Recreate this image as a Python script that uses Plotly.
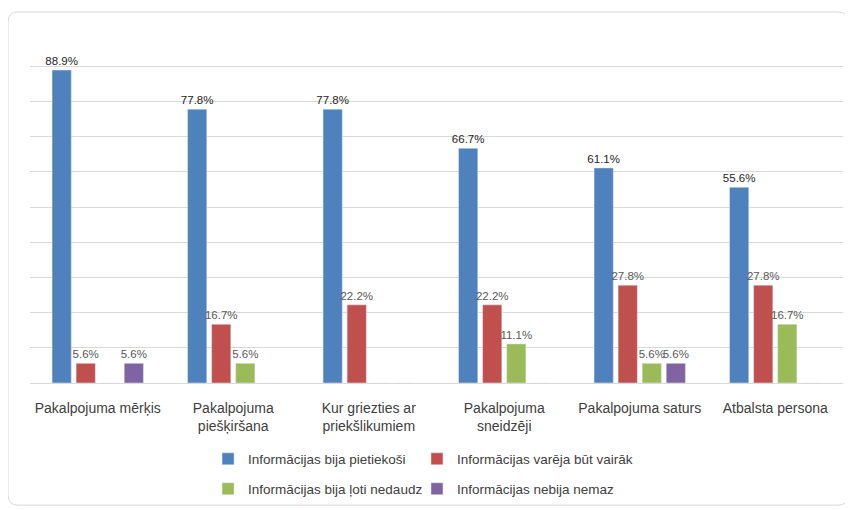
import plotly.graph_objects as go

categories = [
    "Pakalpojuma mērķis",
    "Pakalpojuma<br>piešķiršana",
    "Kur griezties ar<br>priekšlikumiem",
    "Pakalpojuma<br>sneidzēji",
    "Pakalpojuma saturs",
    "Atbalsta persona",
]

series_names = [
    "Informācijas bija pietiekoši",
    "Informācijas varēja būt vairāk",
    "Informācijas bija ļoti nedaudz",
    "Informācijas nebija nemaz",
]

pietiekosi = [88.9, 77.8, 77.8, 66.7, 61.1, 55.6]
vairak = [5.6, 16.7, 22.2, 22.2, 27.8, 27.8]
nedaudz = [0, 5.6, 0, 11.1, 5.6, 16.7]
nemaz = [5.6, 0, 0, 0, 5.6, 0]

colors = ["#4f81bd", "#c0504d", "#9bbb59", "#8064a2"]
label_colors = ["#262626", "#595959", "#595959", "#595959"]
legends = ["legend", "legend2", "legend3", "legend4"]
FONT = "Liberation Sans, Arial, sans-serif"

fig = go.Figure()
for name, vals, col, lcol, lg in zip(series_names, [pietiekosi, vairak, nedaudz, nemaz],
                                     colors, label_colors, legends):
    fig.add_trace(go.Bar(
        x=categories,
        y=vals,
        name=name,
        marker=dict(color=col),
        text=[f"{v}%" if v else "" for v in vals],
        textposition="outside",
        constraintext="none",
        textfont=dict(size=11.5, color=lcol, family=FONT),
        cliponaxis=False,
        legend=lg,
        showlegend=True,
    ))

legend_style = dict(
    orientation="h",
    xanchor="left",
    yanchor="middle",
    font=dict(size=13.5, color="#404040", family=FONT),
    bgcolor="rgba(0,0,0,0)",
    itemwidth=30,
)

# rounded chart border (paper coords)
x0, x1, y0, y1 = -0.027, 1.006, -0.347, 1.054
rx, ry = 0.0123, 0.0284
border = (f"M {x0+rx},{y0} L {x1-rx},{y0} Q {x1},{y0} {x1},{y0+ry} "
          f"L {x1},{y1-ry} Q {x1},{y1} {x1-rx},{y1} "
          f"L {x0+rx},{y1} Q {x0},{y1} {x0},{y1-ry} "
          f"L {x0},{y0+ry} Q {x0},{y0} {x0+rx},{y0} Z")

fig.update_layout(
    width=845,
    height=502,
    showlegend=True,
    paper_bgcolor="white",
    plot_bgcolor="white",
    margin=dict(l=22, r=10, t=23, b=127, autoexpand=False),
    barmode="group",
    bargap=0.29,
    bargroupgap=0.2,
    font=dict(family=FONT, size=14, color="#404040"),
    legend=dict(**legend_style, x=0.219, y=-0.216),
    legend2=dict(**legend_style, x=0.476, y=-0.216),
    legend3=dict(**legend_style, x=0.219, y=-0.301),
    legend4=dict(**legend_style, x=0.476, y=-0.301),
    xaxis=dict(showgrid=False, showline=False, ticks="", automargin=False,
               ticklabelstandoff=15,
               tickfont=dict(size=14, color="#404040")),
    yaxis=dict(range=[0, 100], dtick=10, showgrid=True, gridcolor="#d9d9d9",
               zeroline=True, zerolinecolor="#d9d9d9", zerolinewidth=1,
               showticklabels=False, ticks="", automargin=False),
    shapes=[dict(type="path", xref="paper", yref="paper", path=border,
                 line=dict(color="#d9d9d9", width=1))],
)

fig.write_html("out.html")
